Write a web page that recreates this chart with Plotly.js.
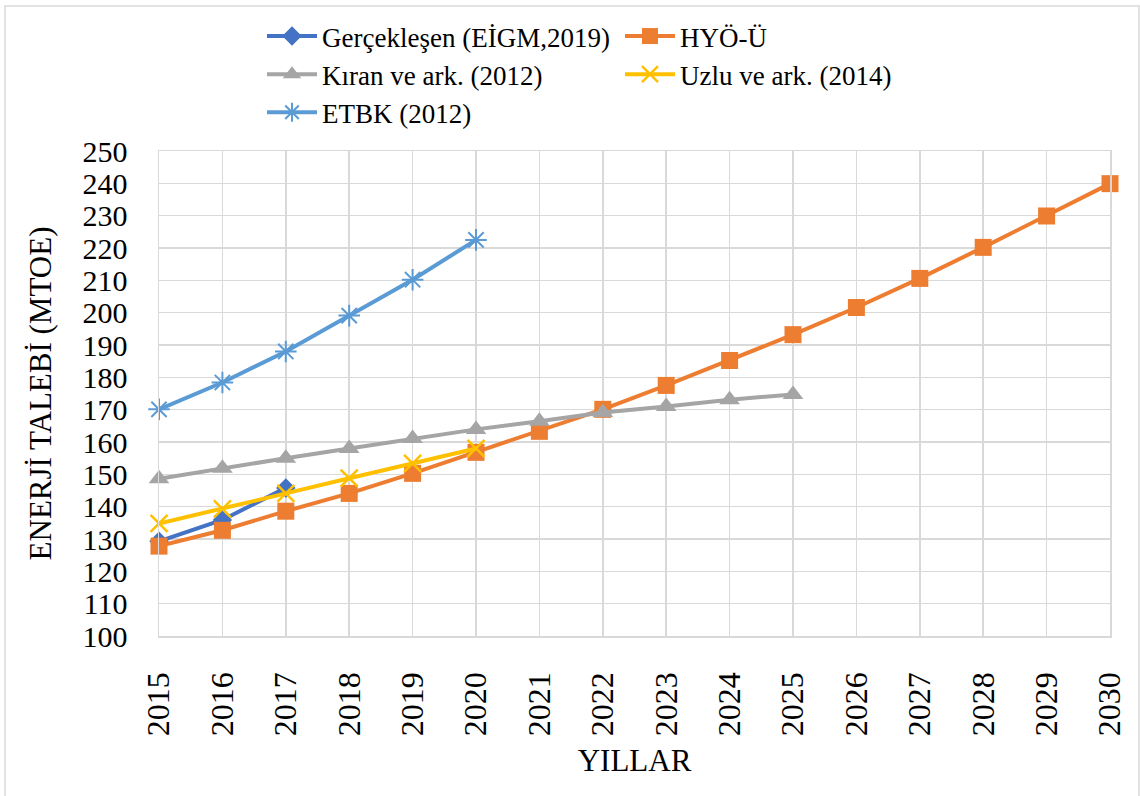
<!DOCTYPE html>
<html>
<head>
<meta charset="utf-8">
<script src="https://cdn.plot.ly/plotly-3.0.1.min.js"></script>
<style>html,body{margin:0;padding:0;background:#fff;}#chart{width:1140px;height:796px;}</style>
</head>
<body>
<div id="chart"></div>
<script>
// ---- data ----
const years = [2015,2016,2017,2018,2019,2020,2021,2022,2023,2024,2025,2026,2027,2028,2029,2030];
const yearsGercek = [2015,2016,2017];
const gercek = [129.3,135.9,145.8];
const yearsHyo = years;
const hyo = [127.8,132.7,138.6,144.1,150.3,156.8,163.3,170.1,177.5,185.2,193.2,201.6,210.6,220.2,229.9,239.9];
const yearsKiran = [2015,2016,2017,2018,2019,2020,2021,2022,2023,2024,2025];
const kiran = [148.6,151.9,155.0,158.0,161.1,163.9,166.4,169.1,171.0,173.1,174.7];
const yearsUzlu = [2015,2016,2017,2018,2019,2020];
const uzlu = [134.8,139.3,144.1,148.8,153.4,158.0];
const yearsEtbk = [2015,2016,2017,2018,2019,2020];
const etbk = [170.1,178.4,188.0,199.1,210.2,222.5];
const names = ['Gerçekleşen (EİGM,2019)','HYÖ-Ü','Kıran ve ark. (2012)','Uzlu ve ark. (2014)','ETBK (2012)'];
const colors = ['#4472C4','#ED7D31','#A5A5A5','#FFC000','#5B9BD5'];
const yTicks = [100,110,120,130,140,150,160,170,180,190,200,210,220,230,240,250];

const font = 'Liberation Serif';
const traces = [
  {x: yearsGercek, y: gercek, name: names[0], mode:'lines+markers',
   line:{color:colors[0], width:4}, marker:{symbol:'diamond', size:15, color:colors[0]}},
  {x: yearsHyo, y: hyo, name: names[1], mode:'lines+markers',
   line:{color:colors[1], width:4}, marker:{symbol:'square', size:17, color:colors[1]}},
  {x: yearsKiran, y: kiran, name: names[2], mode:'lines+markers',
   line:{color:colors[2], width:4}, marker:{symbol:'triangle-up', size:18, color:colors[2]}},
  {x: yearsUzlu, y: uzlu, name: names[3], mode:'lines+markers',
   line:{color:colors[3], width:4}, marker:{symbol:'x-thin-open', size:17, color:colors[3], line:{color:colors[3], width:2.5}}},
  {x: yearsEtbk, y: etbk, name: names[4], mode:'lines+markers',
   line:{color:colors[4], width:4}, marker:{symbol:'asterisk-open', size:18, color:colors[4], line:{color:colors[4], width:2}}}
];
traces.forEach(t => { t.cliponaxis = false; });

const L = 159, R = 1110, T = 151, B = 636;
const pw = R - L, ph = B - T;
const layout = {
  width: 1140, height: 796,
  margin: {l: L, r: 1140 - R, t: T, b: 796 - B},
  paper_bgcolor: '#fff', plot_bgcolor: '#fff',
  font: {family: font, color: '#000'},
  showlegend: true,
  legend: {
    orientation: 'h', x: (262 - L) / pw, y: 1 + (T - 12) / ph, xanchor: 'left', yanchor: 'top',
    font: {family: font, size: 27, color: '#000'},
    itemwidth: 50,
    entrywidth: 293, entrywidthmode: 'pixels', traceorder: 'normal', bgcolor: 'rgba(0,0,0,0)'
  },
  xaxis: {
    range: [2015, 2030], tickmode: 'array', tickvals: years, ticktext: years.map(String),
    tickangle: -90, tickfont: {family: font, size: 32, color: '#000'},
    ticks: 'outside', ticklen: 22, tickcolor: 'rgba(0,0,0,0)',
    showgrid: true, gridcolor: '#d9d9d9', gridwidth: 1.5,
    showline: true, linecolor: '#d9d9d9', linewidth: 1.5, mirror: true,
    zeroline: false, automargin: false,
    title: {text: 'YILLAR', font: {family: font, size: 31, color: '#000'}, standoff: 14}
  },
  yaxis: {
    range: [100, 250], tickmode: 'array', tickvals: yTicks, ticktext: yTicks.map(String),
    tickfont: {family: font, size: 30, color: '#000'},
    ticks: 'outside', ticklen: 24, tickcolor: 'rgba(0,0,0,0)',
    showgrid: true, gridcolor: '#d9d9d9', gridwidth: 1.5,
    showline: true, linecolor: '#d9d9d9', linewidth: 1.5, mirror: true,
    zeroline: false, automargin: false,
    title: {text: 'ENERJİ TALEBİ (MTOE)', font: {family: font, size: 31, color: '#000'}, standoff: 21}
  },
  shapes: [{
    type: 'rect', xref: 'paper', yref: 'paper',
    x0: (5 - L) / pw, x1: (1139 - L) / pw, y0: -(800 - B) / ph, y1: 1 + (T - 6) / ph,
    line: {color: '#d9d9d9', width: 1.5}, fillcolor: 'rgba(0,0,0,0)', layer: 'below'
  }]
};
Plotly.newPlot('chart', traces, layout, {displayModeBar: false, staticPlot: true});
</script>
</body>
</html>
